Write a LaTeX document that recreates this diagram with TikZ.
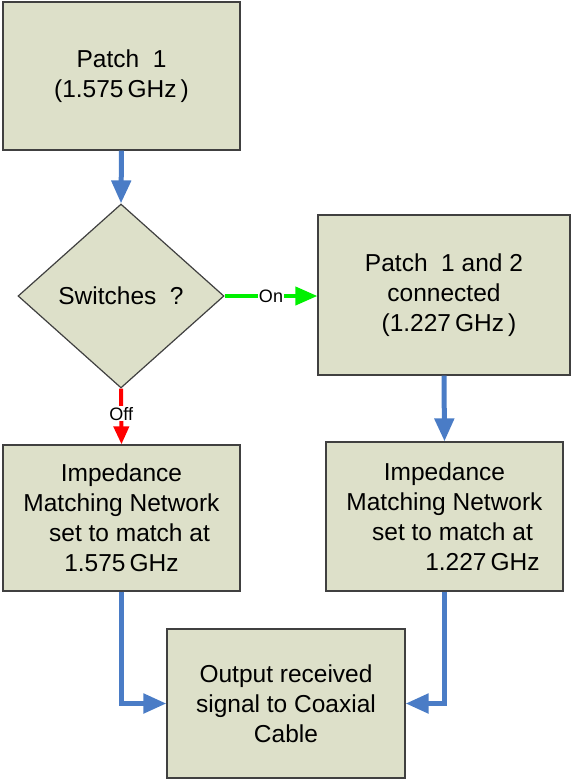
\documentclass[tikz,border=0pt]{standalone}
\usepackage{fontspec}
\setmainfont{Liberation Sans}
\usetikzlibrary{arrows.meta,shapes.geometric}
\definecolor{boxfill}{HTML}{DDE0C9}
\definecolor{boxline}{HTML}{404040}
\definecolor{flowblue}{HTML}{4A7CC6}
\definecolor{flowgreen}{HTML}{00F000}
\definecolor{flowred}{HTML}{FF0000}
\tikzset{
  procbox/.style={draw=boxline, fill=boxfill, line width=1.2pt, inner sep=0pt, align=center,
     font=\fontsize{24.5}{30}\selectfont},
  bluearrow/.style={draw=flowblue, line width=5pt, -{Triangle[width=19pt,length=23pt]}},
  greenarrow/.style={draw=flowgreen, line width=4pt, -{Triangle[width=18pt,length=22pt]}},
  redarrow/.style={draw=flowred, line width=4pt, -{Triangle[width=15pt,length=18pt]}},
  lbl/.style={fill=white, inner sep=1pt, font=\fontsize{18}{20}\selectfont}
}
\begin{document}
\begin{tikzpicture}[x=1pt,y=-1pt]
\useasboundingbox (0,0) rectangle (571,780);
\node[procbox, minimum width=237pt, minimum height=148pt] (p1) at (121.5,76) {Patch\ \ 1\\(1.575\,GHz\,)};
\node[procbox, diamond, minimum width=206pt, minimum height=184pt, aspect=1.12] (sw) at (121,296) {Switches\ \ ?};
\node[procbox, minimum width=252pt, minimum height=160pt] (p12) at (444,295) {Patch\ \ 1 and 2\\connected\\\hspace*{10pt}(1.227\,GHz\,)};
\node[procbox, minimum width=237pt, minimum height=146pt] (imL) at (121.5,518) {Impedance\\Matching Network\\\hspace*{16pt}set to match at\\1.575\,GHz};
\node[procbox, minimum width=237pt, minimum height=149pt] (imR) at (444.5,516.5) {Impedance\\Matching Network\\\hspace*{16pt}set to match at\\\hspace*{76pt}1.227\,GHz};
\node[procbox, minimum width=238pt, minimum height=149pt] (out) at (286,703.5) {Output received\\signal to Coaxial\\Cable};
\draw[bluearrow] (p1.south) -- (sw.north);
\draw[greenarrow] (sw.east) -- node[lbl]{On} (p12.west |- sw.east);
\draw[redarrow] (sw.south) -- node[lbl, pos=0.45]{Off} (imL.north);
\draw[bluearrow] (p12.south) -- (imR.north);
\draw[bluearrow] (imL.south) |- (out.west);
\draw[bluearrow] (imR.south) |- (out.east);
\end{tikzpicture}
\end{document}
